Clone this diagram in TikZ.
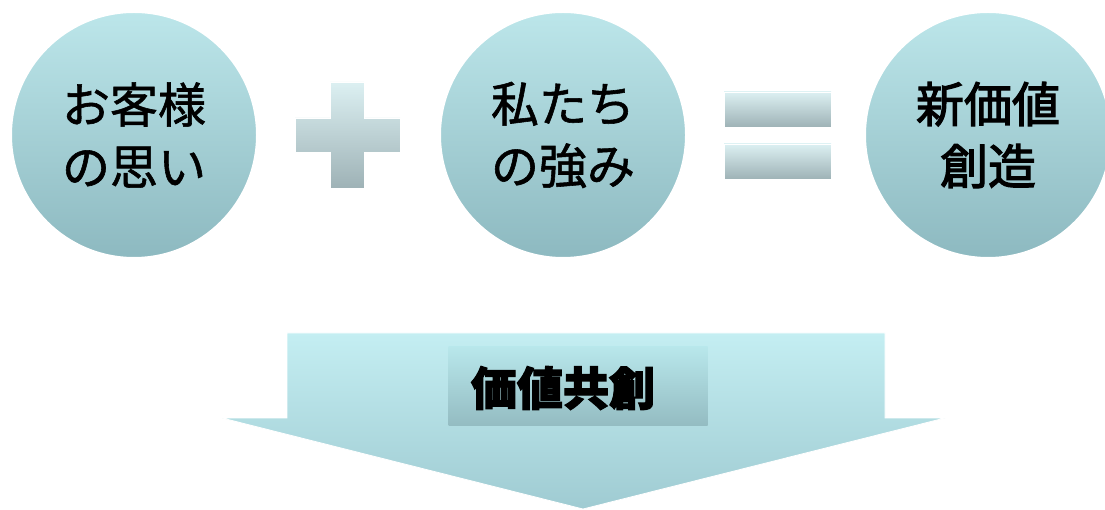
\documentclass[tikz,border=0pt]{standalone}
\usepackage{fontspec}
\setmainfont{Noto Sans CJK JP}
\newfontfamily\medjp[FakeBold=1.2]{Noto Sans CJK JP}
\newfontfamily\boldjp[FakeBold=2.5]{Noto Sans CJK JP}
\usetikzlibrary{shadings}
\definecolor{ctop}{HTML}{BCE6EA}
\definecolor{cbot}{HTML}{8DB9C0}
\definecolor{stop}{HTML}{DCF0F2}
\definecolor{sbot}{HTML}{9EB2B6}
\definecolor{atop}{HTML}{C4EEF2}
\definecolor{abot}{HTML}{9FCBD2}
\definecolor{ltop}{HTML}{B8E7EB}
\definecolor{lbot}{HTML}{94BCC2}
\tikzset{
  ball/.style={circle, minimum size=246pt, inner sep=0pt, top color=ctop, bottom color=cbot,
    draw=white, line width=2pt, align=center, font=\fontsize{48}{62}\selectfont\medjp},
  signbar/.style={top color=stop, bottom color=sbot, draw=white, line width=0.8pt},
}
\begin{document}
\begin{tikzpicture}[x=1pt,y=-1pt]
\useasboundingbox (0,0) rectangle (1105,510);
\node[ball] (c1) at (134,135) {お客様\\の思い};
\node[ball] (c2) at (563,135) {私たち\\の強み};
\node[ball, font=\fontsize{48}{62}\selectfont\boldjp] (c3) at (988,135) {新価値\\創造};
% plus sign
\path[signbar] (330,82) -- (364,82) -- (364,118) -- (400,118) -- (400,152) -- (364,152) -- (364,188) -- (330,188) -- (330,152) -- (295,152) -- (295,118) -- (330,118) -- cycle;
\node[inner sep=0pt, minimum size=0pt] (plus) at (347,135) {};
% equals sign
\path[signbar] (724,92) rectangle (831,127);
\path[signbar] (724,144) rectangle (831,179);
\node[inner sep=0pt, minimum size=0pt] (eq) at (777,135) {};
% arrow
\path[top color=atop, bottom color=abot, draw=white, line width=0.8pt]
  (287,333) -- (885,333) -- (885,418) -- (945,418) -- (583,509) -- (222,418) -- (287,418) -- cycle;
\node[minimum width=259pt, minimum height=78pt, inner sep=0pt, top color=ltop, bottom color=lbot] (lbox) at (578,386) {};
\node[inner sep=0pt, font=\fontsize{46}{50}\selectfont\bfseries\boldjp] (lbl) at (563,388) {価値共創};
\end{tikzpicture}
\end{document}
